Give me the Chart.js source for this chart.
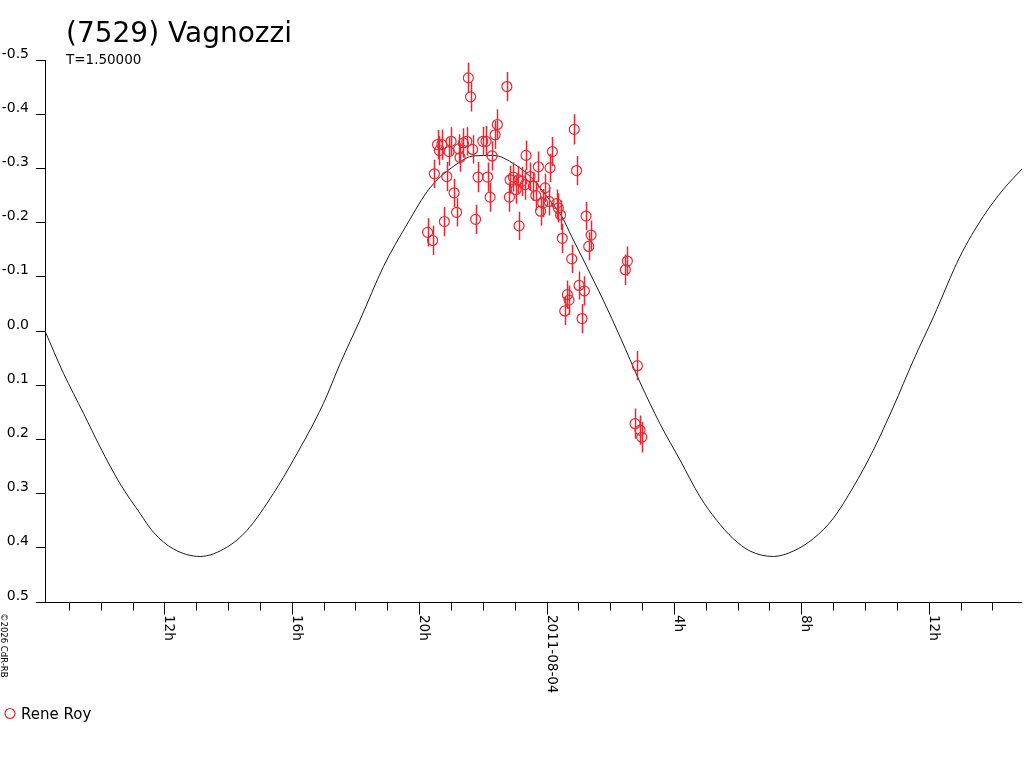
<!DOCTYPE html>
<html>
<head>
<meta charset="utf-8">
<title>(7529) Vagnozzi</title>
<script src="https://cdn.jsdelivr.net/npm/chart.js@4.4.1/dist/chart.umd.min.js"></script>
<style>
    html, body { margin: 0; padding: 0; background: #fff; }
    canvas { display: block; }
</style>
</head>
<body>
<canvas id="lightCurveChart" width="1024" height="768"></canvas>
<script>
// hours relative to 2011-08-04 0h UT, magnitudes relative
const curveHours = [-15.75, -15.17, -14.54, -14.02, -13.39, -12.76, -12.35, -11.72, -10.88, -10.04,
    -9.41, -8.58, -7.95, -7.01, -6.48, -5.86, -5.12, -4.39, -3.66, -2.77,
    -2.30, -1.67, -0.99, -0.41, 0.01, 0.48, 0.79, 1.16, 1.47, 1.78,
    2.31, 2.93, 3.56, 4.19, 4.82, 5.34, 5.86, 6.39, 7.12, 7.75,
    8.38, 9.00, 9.63, 10.26, 10.89, 11.52, 12.15, 12.98, 13.71, 14.34, 14.93];
const curveMags = [0.000, 0.078, 0.152, 0.214, 0.282, 0.337, 0.371, 0.402, 0.416, 0.399,
    0.368, 0.300, 0.238, 0.134, 0.060, -0.020, -0.119, -0.196, -0.264, -0.310,
    -0.323, -0.324, -0.307, -0.279, -0.248, -0.211, -0.174, -0.131, -0.094, -0.057,
    0.011, 0.094, 0.171, 0.238, 0.306, 0.349, 0.383, 0.406, 0.416, 0.406,
    0.383, 0.346, 0.288, 0.220, 0.140, 0.054, -0.026, -0.137, -0.211, -0.261, -0.299];

const obsHours = [-2.455, -2.386, -1.246, -1.545, -1.617, -3.422, -3.290, -2.998, -2.612, -2.505,
    -2.003, -1.900, -3.366, -3.061, -2.763, -2.716, -2.323, -1.711, -3.523, -3.133,
    -2.151, -1.852, -2.904, -1.774, -2.826, -3.209, -2.229, -3.736, -3.579, -0.863,
    -0.644, -0.257, 0.182, 0.110, 0.870, 0.942, -1.146, -1.042, -0.885, -0.779,
    -0.518, -0.414, -0.047, -1.168, -0.958, -0.675, -0.339, -0.119, -0.188, 0.314,
    0.370, 0.078, 0.440, 1.240, 1.397, 1.325, 0.493, 0.791, 2.537, 2.474,
    1.020, 1.187, 0.653, 0.706, 0.571, 1.115, 2.851, 2.779, 2.936, 2.989];
const obsMags = [-0.467, -0.432, -0.451, -0.381, -0.362, -0.344, -0.344, -0.350, -0.347, -0.350,
    -0.350, -0.350, -0.333, -0.331, -0.336, -0.320, -0.335, -0.323, -0.290, -0.285,
    -0.284, -0.284, -0.255, -0.247, -0.219, -0.202, -0.206, -0.182, -0.167, -0.194,
    -0.324, -0.303, -0.331, -0.301, -0.372, -0.296, -0.279, -0.284, -0.279, -0.276,
    -0.285, -0.267, -0.264, -0.247, -0.261, -0.270, -0.250, -0.236, -0.221, -0.235,
    -0.227, -0.239, -0.214, -0.212, -0.177, -0.156, -0.171, -0.133, -0.129, -0.113,
    -0.084, -0.074, -0.067, -0.057, -0.037, -0.023, 0.064, 0.171, 0.183, 0.196];
const obsErrors = [0.028, 0.027, 0.027, 0.028, 0.026, 0.027, 0.028, 0.026, 0.027, 0.026,
    0.027, 0.028, 0.027, 0.026, 0.027, 0.026, 0.026, 0.027, 0.026, 0.027,
    0.028, 0.027, 0.026, 0.027, 0.026, 0.027, 0.027, 0.026, 0.027, 0.026,
    0.027, 0.028, 0.027, 0.026, 0.028, 0.027, 0.026, 0.027, 0.026, 0.027,
    0.026, 0.027, 0.026, 0.027, 0.026, 0.028, 0.027, 0.026, 0.027, 0.026,
    0.027, 0.026, 0.027, 0.026, 0.027, 0.026, 0.027, 0.026, 0.027, 0.028,
    0.026, 0.027, 0.026, 0.027, 0.026, 0.027, 0.027, 0.028, 0.027, 0.028];

const tickHours = [-12, -8, -4, 0, 4, 8, 12];
const tickLabels = ['12h', '16h', '20h', '2011-08-04', '4h', '8h', '12h'];

const hourMin = -15.75;
const hourMax = 14.93;

const red = 'rgb(235, 38, 48)';
const fontFamily = '"DejaVu Sans", sans-serif';

// axis frame, hourly ticks, rotated labels, texts and legend
const decorPlugin = {
    id: 'decor',
    afterDraw(chart) {
        const ctx = chart.ctx;
        const xs = chart.scales.x;
        const area = chart.chartArea;
        const baseY = Math.round(area.bottom) + 0.5;

        ctx.save();
        ctx.strokeStyle = '#000';
        ctx.lineWidth = 1;
        ctx.beginPath();
        ctx.moveTo(36, baseY);
        ctx.lineTo(area.right, baseY);
        for (let h = Math.ceil(hourMin); h <= Math.floor(hourMax); h++) {
            const px = Math.round(xs.getPixelForValue(h)) + 0.5;
            const len = (h % 4 === 0) ? 12 : 8;
            ctx.moveTo(px, baseY);
            ctx.lineTo(px, baseY + len);
        }
        ctx.stroke();

        ctx.fillStyle = '#000';
        ctx.font = '13.5px ' + fontFamily;
        ctx.textAlign = 'left';
        ctx.textBaseline = 'alphabetic';
        tickHours.forEach((h, i) => {
            const px = xs.getPixelForValue(h);
            ctx.save();
            ctx.translate(px + 1, 615);
            ctx.rotate(Math.PI / 2);
            ctx.fillText(tickLabels[i], 0, 0);
            ctx.restore();
        });

        // title and period
        ctx.font = '28px ' + fontFamily;
        ctx.fillText('(7529) Vagnozzi', 66, 42);
        ctx.font = '13.5px ' + fontFamily;
        ctx.fillText('T=1.50000', 66, 64);

        // copyright, vertical
        ctx.save();
        ctx.font = '8.5px ' + fontFamily;
        ctx.translate(1, 613);
        ctx.rotate(Math.PI / 2);
        ctx.fillText('\u00a92026 CdR-RB', 0, 0);
        ctx.restore();

        // legend
        ctx.strokeStyle = red;
        ctx.lineWidth = 1.2;
        ctx.beginPath();
        ctx.arc(10, 713.5, 5, 0, Math.PI * 2);
        ctx.stroke();
        ctx.fillStyle = '#000';
        ctx.font = '15px ' + fontFamily;
        ctx.fillText('Rene Roy', 21, 719);
        ctx.restore();
    }
};

// vertical error bars on the observations
const errorBarPlugin = {
    id: 'errorBars',
    afterDatasetsDraw(chart) {
        const ctx = chart.ctx;
        const xs = chart.scales.x;
        const ys = chart.scales.y;
        ctx.save();
        ctx.strokeStyle = red;
        ctx.lineWidth = 1.5;
        ctx.beginPath();
        obsHours.forEach((h, i) => {
            const px = Math.round(xs.getPixelForValue(h)) + 0.5;
            ctx.moveTo(px, ys.getPixelForValue(obsMags[i] - obsErrors[i]));
            ctx.lineTo(px, ys.getPixelForValue(obsMags[i] + obsErrors[i]));
        });
        ctx.stroke();
        ctx.restore();
    }
};

const ctxLight = document.getElementById('lightCurveChart').getContext('2d');
const lightCurveChart = new Chart(ctxLight, {
    type: 'scatter',
    data: {
        datasets: [{
            label: 'Rene Roy',
            data: obsHours.map((h, i) => ({ x: h, y: obsMags[i] })),
            pointStyle: 'circle',
            pointRadius: 5,
            pointBorderWidth: 1.2,
            borderColor: red,
            backgroundColor: 'rgba(0,0,0,0)',
            showLine: false
        }, {
            label: 'Fit',
            data: curveHours.map((h, i) => ({ x: h, y: curveMags[i] })),
            showLine: true,
            borderColor: '#1a1a1a',
            borderWidth: 1,
            pointRadius: 0,
            cubicInterpolationMode: 'monotone',
            fill: false
        }]
    },
    options: {
        responsive: false,
        devicePixelRatio: 1,
        animation: false,
        events: [],
        layout: {
            autoPadding: false,
            padding: { left: 0, top: 60, right: 2, bottom: 166 }
        },
        plugins: {
            legend: { display: false },
            title: { display: false },
            tooltip: { enabled: false }
        },
        scales: {
            x: {
                type: 'linear',
                min: hourMin,
                max: hourMax,
                display: false
            },
            y: {
                type: 'linear',
                min: -0.5,
                max: 0.5,
                reverse: true,
                position: 'left',
                afterFit(scale) { scale.width = 45; },
                border: { display: true, color: '#000', width: 1 },
                grid: {
                    drawOnChartArea: false,
                    drawTicks: true,
                    tickLength: 9,
                    color: '#000'
                },
                ticks: {
                    stepSize: 0.1,
                    padding: 7,
                    labelOffset: -6,
                    color: '#000',
                    font: { family: fontFamily, size: 14 },
                    callback: value => (Math.round(value * 10) / 10).toFixed(1)
                }
            }
        }
    },
    plugins: [errorBarPlugin, decorPlugin]
});
</script>
</body>
</html>
